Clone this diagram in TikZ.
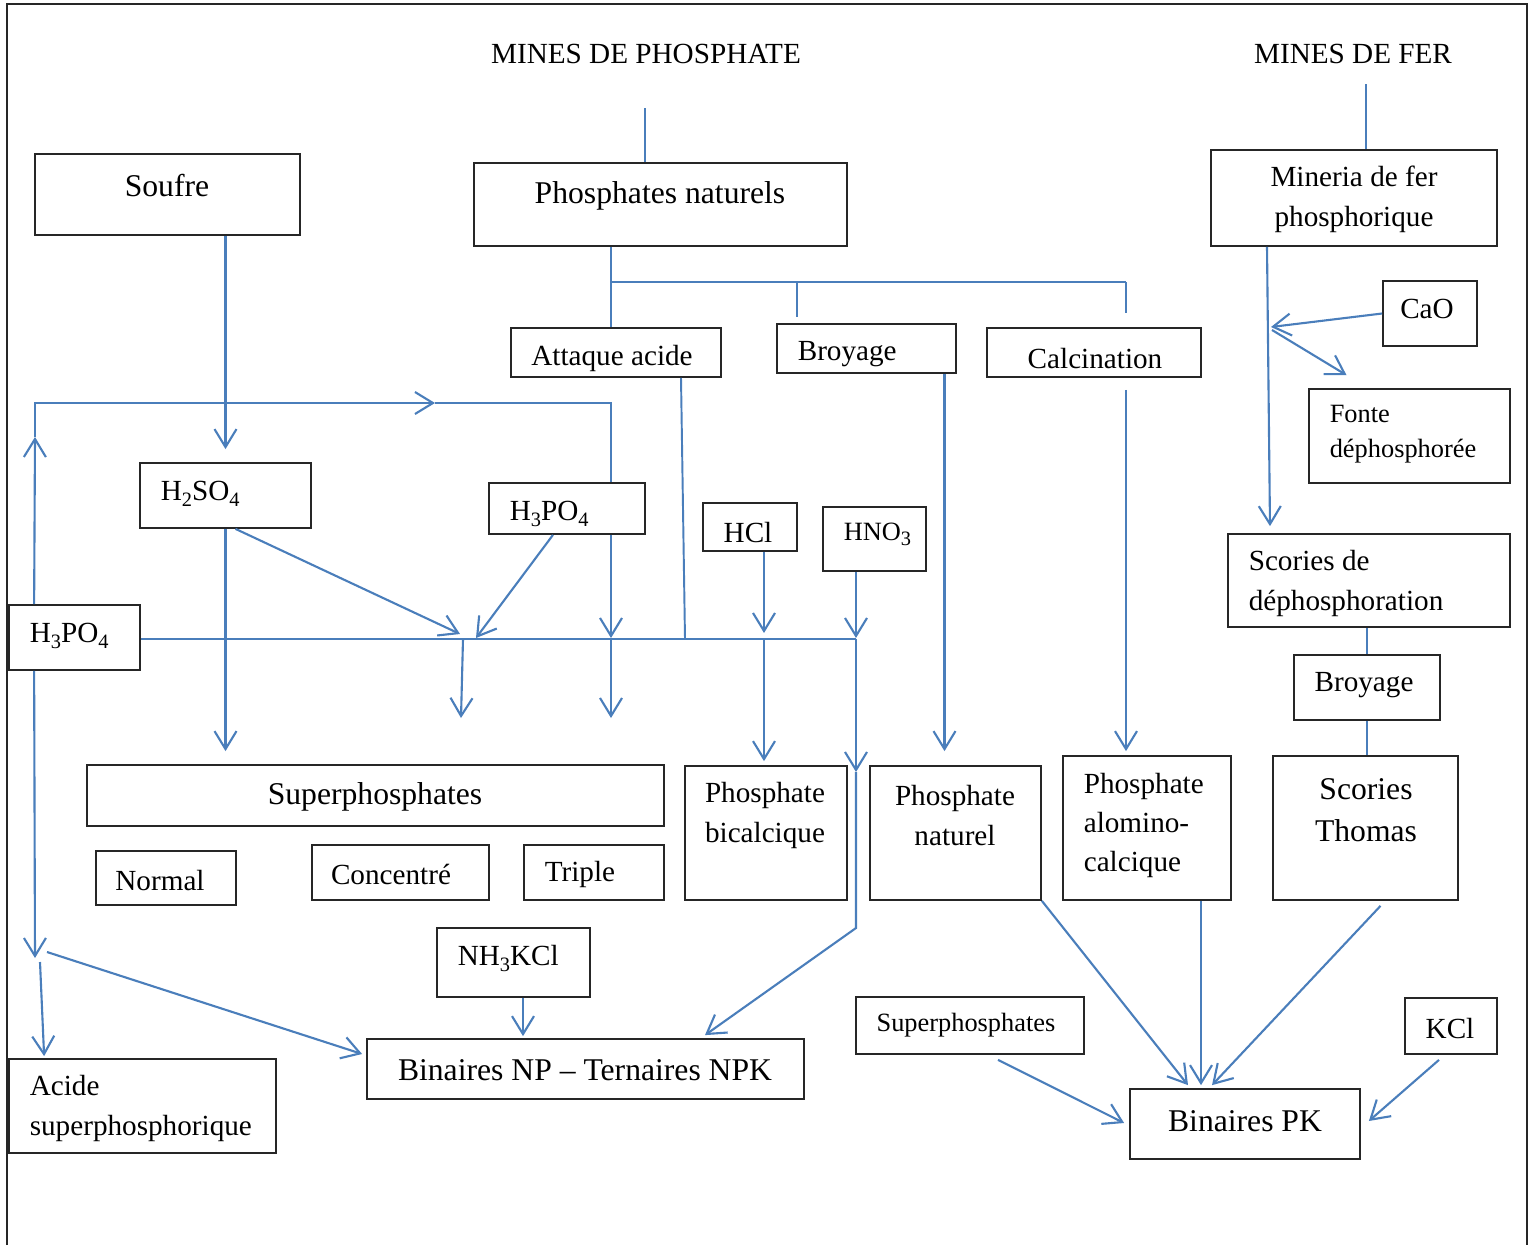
\documentclass[tikz,border=0pt]{standalone}
\usepackage{fontspec}
\setmainfont{Liberation Serif}
\usetikzlibrary{arrows.meta, positioning, calc, fit}
\definecolor{cblue}{HTML}{4A7EBB}
\definecolor{cframe}{HTML}{262626}
\newcommand{\chsub}[1]{\raisebox{-0.45ex}{\fontsize{5.8}{6}\selectfont #1}}
\tikzset{
  every picture/.style={line width=0.45pt},
  box/.style={draw=cframe, line width=0.5pt, inner sep=0pt},
  big/.style={font=\fontsize{9}{12}\selectfont, align=center, inner sep=0pt, yshift=-0.7pt},
  mid/.style={font=\fontsize{8.3}{11.2}\selectfont, align=center, inner sep=0pt, yshift=-0.7pt},
  midl/.style={mid, align=left, anchor=west},
  small/.style={font=\fontsize{7.5}{10}\selectfont, align=center, inner sep=0pt, yshift=-0.7pt},
  smalll/.style={small, align=left, anchor=west},
  link/.style={draw=cblue, line width=0.55pt},
  arrow/.style={link, line width=0.6pt, -{Straight Barb[length=1.8mm, width=2.2mm]}},
}
\begin{document}
\begin{tikzpicture}[x=0.01cm, y=-0.01cm]
  \useasboundingbox (0,0) rectangle (1530,1245);
  \draw[cframe, line width=0.4pt] (7,1245) -- (7,4) -- (1527,4) -- (1527,1245);
  % titles
  \node[mid] (mp-t) at (646,52) {MINES DE PHOSPHATE};
  \node[mid] (mf-t) at (1353,52) {MINES DE FER};
  \coordinate (mp) at (645,108);
  \coordinate (mf) at (1366,84);
  % boxes
  \node[box, fit={(35,154) (300,235)}] (soufre) {};
  \node[big] (soufre-t) at (167,183) {Soufre};
  \node[box, fit={(474,163) (847,246)}] (natp) {};
  \node[big] (natp-t) at (660,193) {Phosphates naturels};
  \node[box, fit={(1211,150) (1497,246)}] (minf) {};
  \node[mid] (minf-t) at (1354,197) {Mineria de fer\\phosphorique};
  \node[box, fit={(511,328) (721,377)}] (attq) {};
  \node[mid] (attq-t) at (612,356) {Attaque acide};
  \node[box, fit={(777,324) (956,373)}] (broy) {};
  \node[midl] (broy-t) at (797,352) {Broyage};
  \node[box, fit={(987,328) (1201,377)}] (calc) {};
  \node[mid] (calc-t) at (1095,356) {Calcination};
  \node[box, fit={(1383,281) (1477,346)}] (cao) {};
  \node[mid] (cao-t) at (1427,307) {CaO};
  \node[box, fit={(1309,389) (1510,483)}] (fonte) {};
  \node[smalll] (fonte-t) at (1329,432) {Fonte\\déphosphorée};
  \node[box, fit={(1228,534) (1510,627)}] (scdp) {};
  \node[midl] (scdp-t) at (1248,581) {Scories de\\déphosphoration};
  \node[box, fit={(1294,655) (1440,720)}] (brt) {};
  \node[mid] (brt-t) at (1364,683) {Broyage};
  \node[box, fit={(1273,756) (1458,900)}] (scth) {};
  \node[big] (scth-t) at (1366,808) {Scories\\Thomas};
  \node[box, fit={(140,463) (311,528)}] (h2so4) {};
  \node[midl] (h2so4-t) at (160,491) {H\chsub{2}SO\chsub{4}};
  \node[box, fit={(489,483) (645,534)}] (hpm) {};
  \node[midl] (hpm-t) at (509,511) {H\chsub{3}PO\chsub{4}};
  \node[box, fit={(703,503) (797,551)}] (hcl) {};
  \node[mid] (hcl-t) at (748,530) {HCl};
  \node[box, fit={(823,507) (926,571)}] (hno3) {};
  \node[smalll] (hno3-t) at (843,532) {HNO\chsub{3}};
  \node[box, fit={(9,605) (140,670)}] (hpl) {};
  \node[midl] (hpl-t) at (29,633) {H\chsub{3}PO\chsub{4}};
  \node[box, fit={(87,765) (664,826)}] (sup) {};
  \node[big] (sup-t) at (375,794) {Superphosphates};
  \node[box, fit={(96,851) (236,905)}] (norm) {};
  \node[mid] (norm-t) at (160,878) {Normal};
  \node[box, fit={(312,845) (489,900)}] (conc) {};
  \node[mid] (conc-t) at (391,872) {Concentré};
  \node[box, fit={(524,845) (664,900)}] (trip) {};
  \node[midl] (trip-t) at (544,872) {Triple};
  \node[box, fit={(685,766) (847,900)}] (bical) {};
  \node[mid] (bical-t) at (765,813) {Phosphate\\bicalcique};
  \node[box, fit={(870,766) (1041,900)}] (natr) {};
  \node[mid] (natr-t) at (955,813) {Phosphate\\naturel};
  \node[box, fit={(1063,756) (1231,900)}] (alum) {};
  \node[midl] (alum-t) at (1083,823) {Phosphate\\alomino-\\calcique};
  \node[box, fit={(437,928) (590,997)}] (nh3) {};
  \node[midl] (nh3-t) at (457,956) {NH\chsub{3}KCl};
  \node[box, fit={(367,1039) (804,1099)}] (npk) {};
  \node[big] (npk-t) at (585,1068) {Binaires NP -- Ternaires NPK};
  \node[box, fit={(9,1059) (276,1153)}] (acid) {};
  \node[midl] (acid-t) at (29,1106) {Acide\\superphosphorique};
  \node[box, fit={(856,997) (1084,1054)}] (sups) {};
  \node[small] (sups-t) at (966,1023) {Superphosphates};
  \node[box, fit={(1405,998) (1497,1054)}] (kcl) {};
  \node[mid] (kcl-t) at (1450,1026) {KCl};
  \node[box, fit={(1130,1089) (1360,1159)}] (bpk) {};
  \node[big] (bpk-t) at (1245,1119) {Binaires PK};
  % junctions
  \coordinate (brL) at (611,282);
  \coordinate (brM) at (797,282);
  \coordinate (brR) at (1126,282);
  \coordinate (lt) at (35,403);
  \coordinate (lm) at (435,403);
  \coordinate (lr) at (611,403);
  \coordinate (jA) at (463,639);
  \coordinate (jB) at (611,639);
  \coordinate (jC) at (764,639);
  \coordinate (jD) at (856,639);
  \coordinate (jL) at (35,958);
  \coordinate (jN) at (856,772);
  \coordinate (jc) at (1271,327);
  % mines and branches
  \draw[link] (mp) -- (natp.north -| mp);
  \draw[link] (mf) -- (minf.north -| mf);
  \draw[link] (natp.south -| brL) -- (brL) -- (brR);
  \draw[link] (brL) -- (attq.north -| brL);
  \draw[link] (brM) -- ($(broy.north -| brM)+(0,-6)$);
  \draw[link] (brR) -- ($(calc.north -| brR)+(0,-14)$);
  \draw[arrow] (h2so4.north |- soufre.south) -- ($(h2so4.north)+(0,-13)$);
  \draw[arrow] ($(broy.south)+(78,0)$) coordinate (b1) -- ($(b1 |- natr.north)+(0,-14)$);
  \draw[arrow] ($(calc.south -| brR)+(0,12)$) -- ($(alum.north -| brR)+(0,-4)$);
  % iron
  \draw[arrow] ($(minf.south)+(-87,0)$) -- ($(scdp.north)+(-99,-7)$);
  \draw[arrow] (cao.west) -- (jc);
  \draw[arrow] ($(jc)+(1,3)$) -- ($(fonte.north)+(-63,-13)$);
  \draw[link] (scdp.south -| brt.north) -- (brt.north);
  \draw[link] (brt.south) -- (brt.south |- scth.north);
  % acid line
  \draw[link] (hpl.east |- jD) -- (jD);
  \draw[link] ($(attq.south)+(65,0)$) -- (685,639);
  \draw[arrow] ($(hpl.north west)+(26,0)$) -- (35,437);
  \draw[arrow] (35,437) -- (lt) -- (lm);
  \draw[link] (lm) -- (lr) -- (hpm.north -| lr);
  \draw[arrow] ($(hpl.south west)+(26,0)$) -- (jL);
  \draw[arrow] (40,962) -- ($(acid.north west)+(36,-2)$);
  \draw[arrow] (47,952) -- ($(npk.west)+(-4,-15)$);
  \draw[arrow] (h2so4.south) -- ($(h2so4.south |- sup.north)+(0,-13)$);
  \draw[arrow] ($(h2so4.south)+(10,0)$) -- (460,634);
  \draw[arrow] ($(hpm.south)+(-14,0)$) -- (476,638);
  \draw[arrow] (hpm.south -| jB) -- ($(jB)+(0,-1)$);
  \draw[arrow] (jB) -- (611,718);
  \draw[arrow] (jA) -- (461,718);
  \draw[arrow] ($(hcl.south)+(14,0)$) -- ($(jC)+(0,-6)$);
  \draw[arrow] (jC) -- ($(bical.north)+(-2,-4)$);
  \draw[arrow] ($(hno3.south)+(-18.5,0)$) -- ($(jD)+(0,-1)$);
  \draw[arrow] (jD) -- (jN);
  \draw[arrow] (jN) -- (856,928) -- ($(npk.north)+(119.5,-3)$);
  \draw[arrow] ($(nh3.south)+(9.5,0)$) -- ($(npk.north -| 523,0)+(0,-2)$);
  % PK
  \draw[arrow] (natr.south east) -- ($(bpk.north)+(-57,-3)$);
  \draw[arrow] ($(alum.south)+(54,0)$) -- ($(bpk.north)+(-44,-3)$);
  \draw[arrow] ($(scth.south)+(15,5)$) -- ($(bpk.north)+(-33,-3)$);
  \draw[arrow] ($(sups.south)+(28,5)$) -- ($(bpk.west)+(-5,-1)$);
  \draw[arrow] ($(kcl.south)+(-12,5)$) -- ($(bpk.east)+(8,-3)$);
\end{tikzpicture}
\end{document}
